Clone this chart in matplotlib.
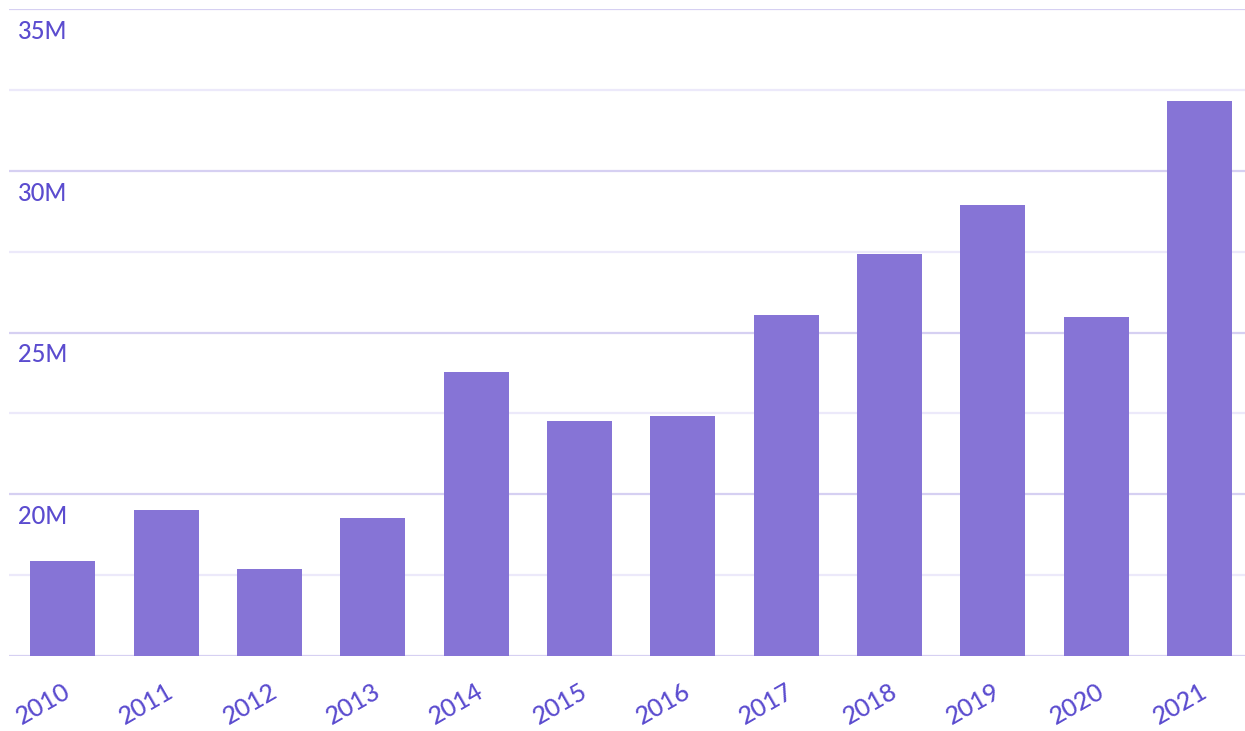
import numpy as np
import matplotlib
matplotlib.use("Agg")
from matplotlib import pyplot as plt
from matplotlib import transforms

years = ["2010", "2011", "2012", "2013", "2014", "2015",
         "2016", "2017", "2018", "2019", "2020", "2021"]
values = [17.94, 19.51, 17.69, 19.27, 23.78, 22.26,
          22.42, 25.54, 27.43, 28.94, 25.48, 32.16]  # millions
major_ticks = [20, 25, 30, 35]
minor_ticks = [15, 17.5, 22.5, 27.5, 32.5]

bar_color = "#8674d6"
text_color = "#5b4ccf"

plt.rcParams["font.family"] = ["Lato", "DejaVu Sans"]

fig = plt.figure(figsize=(12.45, 7.31), dpi=100)
ax = fig.add_axes([9 / 1245, 1 - 656 / 731, 1 - 9 / 1245, (656 - 9) / 731])

x = np.arange(len(years))
ax.bar(x, values, width=0.63, color=bar_color, zorder=3)

ax.set_ylim(15, 35)
ax.set_xlim(-0.52, len(years) - 0.56)

for v in minor_ticks:
    ax.axhline(v, color="#d6d0f2" if v == 15 else "#ece9fa", lw=1.6, zorder=1)
for v in major_ticks:
    ax.axhline(v, color="#d6d0f2", lw=1.6, zorder=1)

for s in ax.spines.values():
    s.set_visible(False)
ax.set_yticks([])
ax.set_xticks(x)
ax.set_xticklabels(years, rotation=30, ha="right", rotation_mode="anchor",
                   fontsize=18, color=text_color, fontweight="medium")
ax.tick_params(axis="x", length=0, pad=17)

off = transforms.ScaledTranslation(9 / 100, -11 / 100, fig.dpi_scale_trans)
trans = transforms.blended_transform_factory(ax.transAxes, ax.transData) + off
for v in major_ticks:
    ax.text(0, v, f"{v}M", transform=trans, va="top", ha="left",
            fontsize=17, color=text_color, fontweight="medium", zorder=4)

plt.savefig("out.png", dpi=100)
plt.close()
